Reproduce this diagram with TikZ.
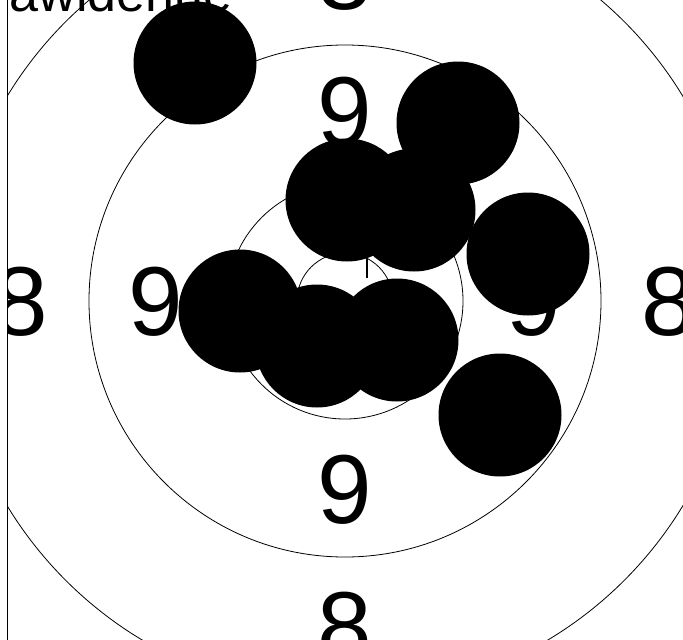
\documentclass[tikz,border=0pt]{standalone}
\usepackage{fontspec}
\setmainfont{Liberation Sans}
\begin{document}
\begin{tikzpicture}[x=1pt,y=-1pt,
  ring/.style={draw=black,line width=0.8pt},
  digit/.style={inner sep=0pt,anchor=center,font=\fontsize{98}{98}\selectfont},
  shot/.style={fill=black,draw=none}]
\useasboundingbox (0,0) rectangle (683,640);
\coordinate (c) at (345,301);
\begin{scope}
\clip (7.3,0) rectangle (683,640);
\draw[ring] (c) circle[radius=395];
\draw[ring] (c) circle[radius=256];
\draw[ring] (c) circle[radius=118];
\draw[ring] (c) circle[radius=48];
\node[digit] (n9t) at (345,112) {9};
\node[digit] (n9b) at (345,490) {9};
\node[digit] (n9l) at (156,302) {9};
\node[digit] (n9r) at (534,302) {9};
\node[digit] (n8t) at (345,-24) {8};
\node[digit] (n8b) at (345,627) {8};
\node[digit] (n8l) at (21,302) {8};
\node[digit] (n8r) at (669,302) {8};
\node[inner sep=0pt,anchor=base west,font=\fontsize{52}{52}\selectfont] (title) at (-31,11) {Gawldenue};
\draw[line width=2.5pt] (367,255) -- (367,278);
\foreach \x/\y in {195/63,458/123,347/200,414/210,528/254,500/415,240/311,317/346,397/340}
  \fill[shot] (\x,\y) circle[radius=61.5];
\end{scope}
\draw[line width=1.3pt] (7.3,0) -- (7.3,640);
\end{tikzpicture}
\end{document}
